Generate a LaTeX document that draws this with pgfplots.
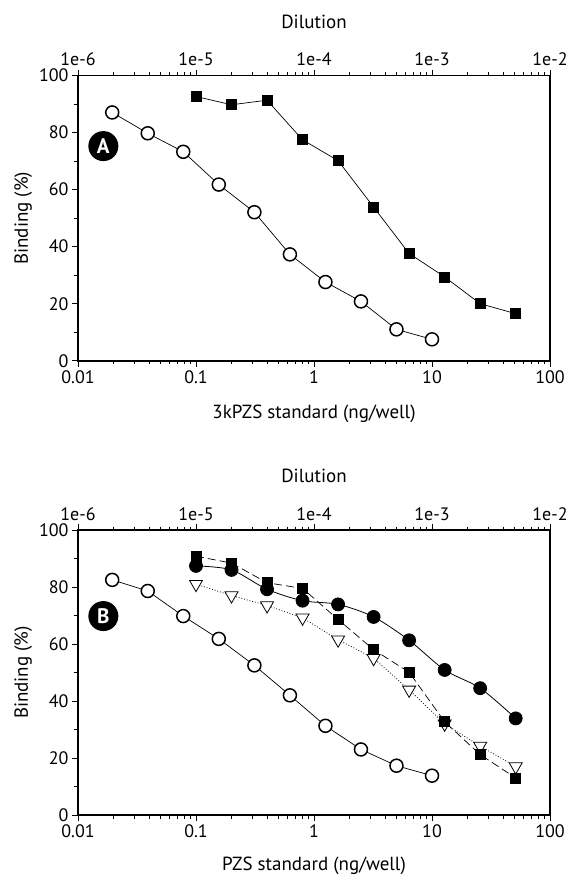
\documentclass[border=0pt]{standalone}
\usepackage{fontspec}
\setmainfont{PT Sans}
\usepackage{pgfplots}
\pgfplotsset{compat=1.18}

\pgfplotsset{
  scale only axis, width=472pt, height=285pt,
  tick align=outside,
  major tick length=6pt, minor tick length=3.5pt,
  tick style={black, line width=0.8pt},
  tick label style={font=\fontsize{18}{21}\selectfont},
  label style={font=\fontsize{19}{22}\selectfont},
}
\tikzset{
  opencirc/.style={black, line width=0.7pt, mark=*, mark size=6.5pt,
    mark options={solid, fill=white, draw=black, line width=1.5pt}},
  fillsq/.style={black, line width=0.7pt, mark=square*, mark size=5pt,
    mark options={solid, fill=black, draw=black}},
  fillcirc/.style={black, line width=0.8pt, mark=*, mark size=6.5pt,
    mark options={solid, fill=black, draw=black}},
  opentri/.style={black, line width=0.8pt, mark=triangle*, mark size=7.5pt,
    mark options={solid, fill=white, draw=black, line width=0.8pt, rotate=180}},
  lab/.style={circle, fill=black, text=white, minimum size=30pt, inner sep=0pt,
    font=\bfseries\fontsize{21}{21}\selectfont}
}

\pgfplotstableread{
x y
0.0195 87.1
0.039 79.8
0.078 73.3
0.156 61.8
0.3125 52.1
0.625 37.3
1.25 27.6
2.5 20.8
5 11.0
10 7.5
}\Acirc
\pgfplotstableread{
x y
0.1 92.7
0.2 89.8
0.4 91.4
0.8 77.5
1.6 70.2
3.2 53.9
6.4 37.6
12.8 29.4
25.6 20.0
51.2 16.5
}\Asq
\pgfplotstableread{
x y
0.0195 82.5
0.039 78.6
0.078 69.8
0.156 61.8
0.3125 52.5
0.625 42.0
1.25 31.3
2.5 23.0
5 17.3
10 13.8
}\Bcirc
\pgfplotstableread{
x y
0.1 90.8
0.2 88.4
0.4 81.5
0.8 79.5
1.6 68.6
3.2 58.0
6.4 50.1
12.8 32.7
25.6 21.2
51.2 13.0
}\Bsq
\pgfplotstableread{
x y
0.1 87.4
0.2 86.0
0.4 79.2
0.8 75.2
1.6 73.9
3.2 69.5
6.4 61.3
12.8 50.9
25.6 44.5
51.2 33.9
}\Bfcirc
\pgfplotstableread{
x y
0.1 81.0
0.2 77.0
0.4 73.5
0.8 69.2
1.6 61.5
3.2 55.0
6.4 43.9
12.8 32.0
25.6 24.2
51.2 17.0
}\Btri

\begin{document}
\begin{tikzpicture}
% Panel A
\begin{axis}[at={(0pt,0pt)}, anchor=south west,
  xmode=log, xmin=0.01, xmax=100, ymin=0, ymax=100,
  xtick={0.01,0.1,1,10,100}, xticklabels={0.01,0.1,1,10,100},
  ytick={0,20,40,60,80,100}, minor ytick={10,30,50,70,90},
  yticklabels={0,20,40,60,80,100},
  xtick pos=left, ytick pos=left,
  axis line style={line width=1.6pt},
  ylabel={Binding (\%)}, clip=false,
  xlabel={3kPZS standard (ng/well)}, xlabel style={yshift=-15pt}]
  \addplot[fillsq] table {\Asq};
  \addplot[opencirc] table {\Acirc};
  \node[lab] at (axis cs:0.0164,75.3) {A};
\end{axis}
\begin{axis}[at={(0pt,0pt)}, anchor=south west,
  xmode=log, xmin=1e-6, xmax=1e-2, ymin=0, ymax=1,
  axis x line*=top, axis y line=none,
  x axis line style={-, line width=1.6pt},
  xtick={1e-6,1e-5,1e-4,1e-3,1e-2}, xticklabels={1e-6,1e-5,1e-4,1e-3,1e-2},
  xlabel={Dilution}, xlabel style={yshift=18pt}]
  \addplot[draw=none] coordinates {(1e-6,0) (1e-2,1)};
\end{axis}
% Panel B
\begin{axis}[at={(0pt,-454.3pt)}, anchor=south west,
  xmode=log, xmin=0.01, xmax=100, ymin=0, ymax=100,
  xtick={0.01,0.1,1,10,100}, xticklabels={0.01,0.1,1,10,100},
  ytick={0,20,40,60,80,100}, minor ytick={10,30,50,70,90},
  yticklabels={0,20,40,60,80,100},
  xtick pos=left, ytick pos=left,
  axis line style={line width=1.6pt},
  ylabel={Binding (\%)}, clip=false,
  xlabel={PZS standard (ng/well)}, xlabel style={yshift=-13pt}]
  \addplot[opentri, dotted] table {\Btri};
  \addplot[fillsq, dash pattern=on 8pt off 4pt] table {\Bsq};
  \addplot[fillcirc, smooth, tension=0.5] table {\Bfcirc};
  \addplot[opencirc] table {\Bcirc};
  \node[lab] at (axis cs:0.0164,69.8) {B};
\end{axis}
\begin{axis}[at={(0pt,-454.3pt)}, anchor=south west,
  xmode=log, xmin=1e-6, xmax=1e-2, ymin=0, ymax=1,
  axis x line*=top, axis y line=none,
  x axis line style={-, line width=1.6pt},
  xtick={1e-6,1e-5,1e-4,1e-3,1e-2}, xticklabels={1e-6,1e-5,1e-4,1e-3,1e-2},
  xlabel={Dilution}, xlabel style={yshift=18pt}]
  \addplot[draw=none] coordinates {(1e-6,0) (1e-2,1)};
\end{axis}
\pgfresetboundingbox
\path[use as bounding box] (-78pt,360.7pt) rectangle (488pt,-517.3pt);
\end{tikzpicture}
\end{document}
